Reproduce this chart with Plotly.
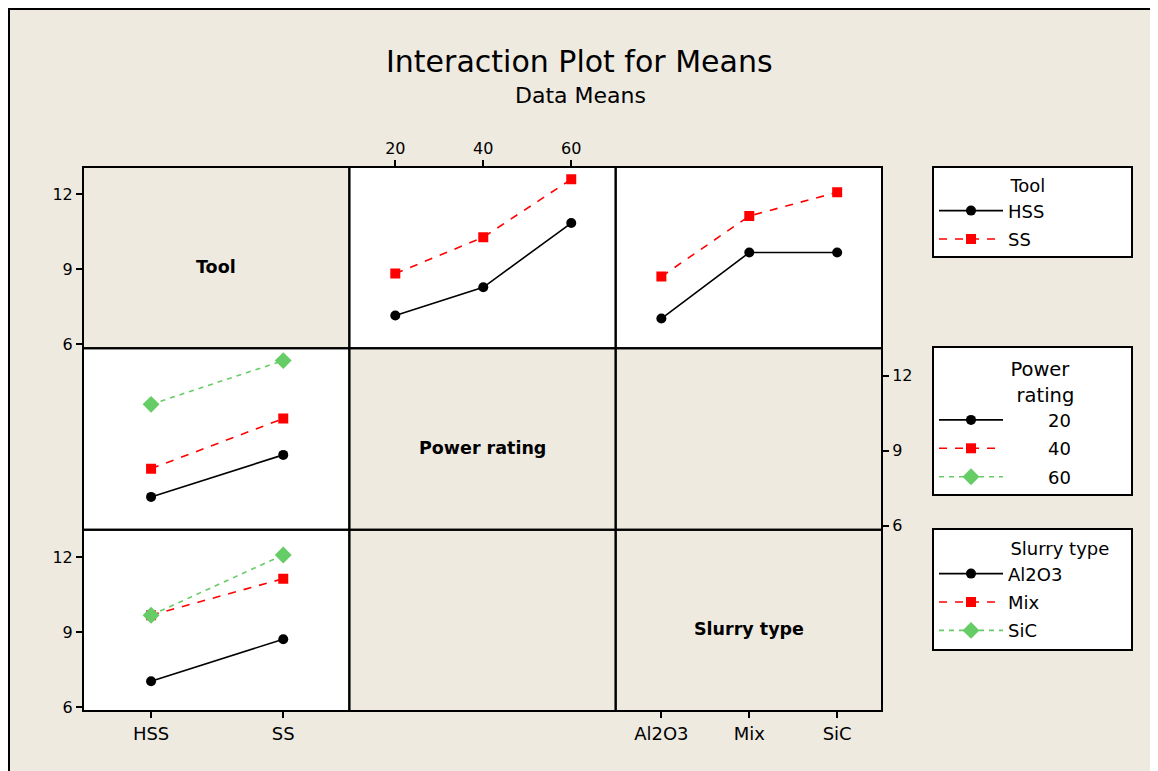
import plotly.graph_objects as go
from plotly.subplots import make_subplots

# ---------------- data ----------------
tool_levels = ["HSS", "SS"]
power_levels = [20, 40, 60]
slurry_levels = ["Al2O3", "Mix", "SiC"]

# mean response by Tool x Power rating
hss_by_power = [7.15, 8.28, 10.85]
ss_by_power = [8.83, 10.28, 12.60]
# mean response by Tool x Slurry type
hss_by_slurry = [7.03, 9.67, 9.67]
ss_by_slurry = [8.71, 11.13, 12.08]

y_ticks = [6, 9, 12]

# ---------------- styles ----------------
BEIGE = "#EEEAE0"
FONT = "DejaVu Sans"
colors = ["black", "#FF0000", "#66CC66"]
dashes = ["solid", "8px,8px", "5px,5px"]
symbols = ["circle", "square", "diamond"]
msizes = [10, 10, 13]

OFF = 8  # page body margin
W, H = 1158 - OFF, 771 - OFF
L, R, T, B = 83 - OFF, 882 - OFF, 167 - OFF, 711 - OFF


def px(x):
    return (x - OFF - L) / (R - L)


def py(y):
    return (B - (y - OFF)) / (B - T)


fig = make_subplots(rows=3, cols=3, horizontal_spacing=0, vertical_spacing=0)


def style(i):
    return dict(
        line=dict(color=colors[i], width=1.6, dash=dashes[i]),
        marker=dict(color=colors[i], symbol=symbols[i], size=msizes[i], line=dict(width=0)),
    )


tool_idx = list(range(len(tool_levels)))
slurry_idx = list(range(len(slurry_levels)))

# Row 1, col 2: Tool traces vs Power rating
for i, (name, ys) in enumerate([(tool_levels[0], hss_by_power), (tool_levels[1], ss_by_power)]):
    fig.add_trace(go.Scatter(x=power_levels, y=ys, mode="lines+markers", name=name,
                             legend="legend", legendgroup="tool" + name, **style(i)), row=1, col=2)
# Row 1, col 3: Tool traces vs Slurry type
for i, (name, ys) in enumerate([(tool_levels[0], hss_by_slurry), (tool_levels[1], ss_by_slurry)]):
    fig.add_trace(go.Scatter(x=slurry_idx, y=ys, mode="lines+markers", name=name, showlegend=False,
                             legend="legend", legendgroup="tool" + name, **style(i)), row=1, col=3)
# Row 2, col 1: Power rating traces vs Tool
for j, p in enumerate(power_levels):
    fig.add_trace(go.Scatter(x=tool_idx, y=[hss_by_power[j], ss_by_power[j]], mode="lines+markers",
                             name="&nbsp;" * 7 + str(p), legend="legend2", legendgroup="pow" + str(p),
                             **style(j)), row=2, col=1)
# Row 3, col 1: Slurry type traces vs Tool
for j, s in enumerate(slurry_levels):
    fig.add_trace(go.Scatter(x=tool_idx, y=[hss_by_slurry[j], ss_by_slurry[j]], mode="lines+markers",
                             name=s, legend="legend3", legendgroup="sl" + s, **style(j)),
                  row=3, col=1)

# empty placeholder traces so that the empty cells get their axes
for (r, c) in [(1, 1), (2, 2), (2, 3), (3, 2), (3, 3)]:
    fig.add_trace(go.Scatter(x=[], y=[], showlegend=False, hoverinfo="skip"), row=r, col=c)

yr = [5.84, 13.09]
tool_rng = [-0.515, 1.5]
cat3_rng = [-0.52, 2.51]
pow_rng = [9.55, 70.1]

num_font = dict(family=FONT, size=16, color="black")
cat_font = dict(family=FONT, size=18, color="black")

base_ax = dict(showgrid=False, zeroline=False, showline=False, ticks="", showticklabels=False,
               fixedrange=True)
for r in range(1, 4):
    for c in range(1, 4):
        xa = dict(base_ax)
        ya = dict(base_ax, range=yr)
        if c == 1:
            xa["range"] = tool_rng
        elif c == 2:
            xa["range"] = pow_rng
        else:
            xa["range"] = cat3_rng
        fig.update_xaxes(xa, row=r, col=c)
        fig.update_yaxes(ya, row=r, col=c)

tick_common = dict(ticks="outside", ticklen=6, tickwidth=1.5, tickcolor="black", showticklabels=True)
for r in (1, 3):
    fig.update_yaxes(tick_common, tickvals=y_ticks, tickfont=num_font, row=r, col=1)
fig.update_yaxes(tick_common, tickvals=y_ticks, tickfont=num_font, side="right", row=2, col=3)
fig.update_xaxes(tick_common, tickvals=power_levels, tickfont=num_font, side="top", row=1, col=2)
fig.update_xaxes(tick_common, tickvals=tool_idx, ticktext=tool_levels, tickfont=cat_font, row=3, col=1)
fig.update_xaxes(tick_common, tickvals=slurry_idx, ticktext=slurry_levels, tickfont=cat_font, row=3, col=3)

shapes = []
# beige frame
shapes.append(dict(type="rect", xref="paper", yref="paper", x0=px(OFF + 1), x1=px(1153), y0=py(800),
                   y1=py(OFF + 1), fillcolor=BEIGE, line=dict(color="black", width=2), layer="below"))
# white data cells
for (r, c) in [(1, 2), (1, 3), (2, 1), (3, 1)]:
    n = (r - 1) * 3 + c
    xs = "" if n == 1 else str(n)
    shapes.append(dict(type="rect", xref=f"x{xs} domain", yref=f"y{xs} domain", x0=0, x1=1, y0=0, y1=1,
                       fillcolor="white", line=dict(width=0), layer="below"))
# grid lines
for c in range(1, 4):
    shapes.append(dict(type="rect", xref=f"x{'' if c == 1 else c} domain", yref="paper",
                       x0=0, x1=1, y0=0, y1=1, line=dict(color="black", width=2), layer="above"))
for r in range(1, 4):
    n = (r - 1) * 3 + 1
    shapes.append(dict(type="rect", xref="paper", yref=f"y{'' if n == 1 else n} domain",
                       x0=0, x1=1, y0=0, y1=1, line=dict(color="black", width=2), layer="above"))
# legend boxes
for (y0, y1) in [(167, 257), (347, 495), (529, 650)]:
    shapes.append(dict(type="rect", xref="paper", yref="paper", x0=px(933), x1=px(1132),
                       y0=py(y1), y1=py(y0), fillcolor="white", line=dict(color="black", width=2),
                       layer="below"))

annotations = [
    dict(text="Interaction Plot for Means", x=px(579), y=py(61), xref="paper", yref="paper",
         showarrow=False, font=dict(family=FONT, size=30, color="black"), xanchor="center", yanchor="middle"),
    dict(text="Data Means", x=px(580), y=py(95), xref="paper", yref="paper",
         showarrow=False, font=dict(family=FONT, size=22, color="black"), xanchor="center", yanchor="middle"),
]
for n, lab in [(1, "Tool"), (5, "Power rating"), (9, "Slurry type")]:
    xs = "" if n == 1 else str(n)
    annotations.append(dict(text=f"<b>{lab}</b>", x=0.5, y=0.5, xref=f"x{xs} domain", yref=f"y{xs} domain",
                            showarrow=False, yshift=-9, font=dict(family=FONT, size=17.5, color="black")))

PAD = "&nbsp;" * 13
PAD2 = "&nbsp;" * 12
leg_common = dict(bgcolor="rgba(0,0,0,0)", borderwidth=0, font=dict(family=FONT, size=18, color="black"),
                  xanchor="left", yanchor="top", itemclick=False, itemdoubleclick=False,
                  tracegroupgap=2, itemwidth=64)
fig.update_layout(
    width=W, height=H,
    margin=dict(l=L, r=W - R, t=T, b=H - B),
    paper_bgcolor="white", plot_bgcolor="rgba(0,0,0,0)",
    shapes=shapes, annotations=annotations,
    legend=dict(leg_common, x=px(934), y=py(169),
                title=dict(text=PAD + "Tool", side="top", font=dict(family=FONT, size=18))),
    legend2=dict(leg_common, x=px(934), y=py(351),
                 title=dict(text=PAD2 + "Power<br>" + PAD2 + "&nbsp;rating", side="top",
                            font=dict(family=FONT, size=19.5))),
    legend3=dict(leg_common, x=px(934), y=py(532),
                 title=dict(text=PAD + "Slurry type", side="top", font=dict(family=FONT, size=18))),
    font=dict(family=FONT, color="black"),
)

fig.write_html("out.html")
